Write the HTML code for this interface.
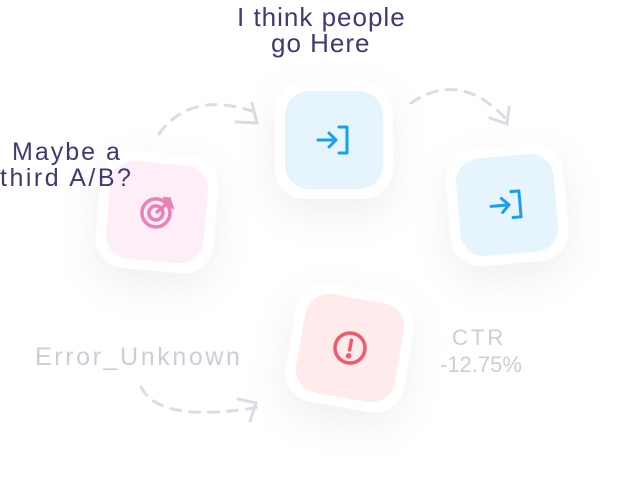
<!DOCTYPE html>
<html><head><style>
body{margin:0;width:629px;height:491px;background:#fff;position:relative;overflow:hidden;font-family:"Comic Sans MS","Liberation Sans",sans-serif}
.card{position:absolute;background:#fff;border-radius:30px;box-shadow:0 14px 40px rgba(120,120,150,.12)}
.in{position:absolute;left:10px;top:10px;right:10px;bottom:10px;border-radius:24px;display:flex;align-items:center;justify-content:center}
.t{position:absolute;white-space:nowrap;line-height:1}
</style></head><body>
<svg width="629" height="491" style="position:absolute;left:0;top:0" fill="none" stroke="#dcdce6" stroke-width="3" stroke-linecap="round">
<path d="M159 134 Q190 90 255 112" stroke-dasharray="10 9"/>
<path d="M236 122 L257 123 L252 103"/>
<path d="M411 103 Q460 70 505 118" stroke-dasharray="10 9"/>
<path d="M490 118 L507 124 L509 107"/>
<path d="M141 387 Q160 425 265 406" stroke-dasharray="10 9"/>
<path d="M238 399 L256 403 L250 421"/>
</svg>
<div class="card" style="left:98px;top:153px;width:118px;height:118px;transform:rotate(5deg)"><div class="in" style="background:#fdeef7">
<svg width="36" height="36" viewBox="0 0 36 36" fill="none" stroke="#ec7fb3" stroke-width="3.5"><circle cx="17" cy="19" r="14"/><circle cx="17" cy="19" r="7"/><path d="M17 19 L27 9" /><path d="M25 4 L27 9 L32 11 L29 4Z" fill="#ec7fb3"/></svg></div></div>
<div class="card" style="left:275px;top:81px;width:118px;height:118px"><div class="in" style="background:#e6f5fd">
<svg width="36" height="36" viewBox="0 0 36 36" fill="none" stroke="#1a9ff0" stroke-width="3" stroke-linecap="round" stroke-linejoin="round"><path d="M2 18 H20 M13 11 L20 18 L13 25"/><path d="M23 5 H31 V31 H23"/></svg></div></div>
<div class="card" style="left:448px;top:146px;width:118px;height:118px;transform:rotate(-5deg)"><div class="in" style="background:#e6f5fd">
<svg width="36" height="36" viewBox="0 0 36 36" fill="none" stroke="#1a9ff0" stroke-width="3" stroke-linecap="round" stroke-linejoin="round"><path d="M2 18 H20 M13 11 L20 18 L13 25"/><path d="M23 5 H31 V31 H23"/></svg></div></div>
<div class="card" style="left:290px;top:288px;width:120px;height:120px;transform:rotate(10deg)"><div class="in" style="background:#ffeaec">
<svg width="36" height="36" viewBox="0 0 36 36" fill="none" stroke="#f25a6c" stroke-width="3.5" stroke-linecap="round"><circle cx="18" cy="18" r="15"/><path d="M18 10 V20"/><circle cx="18" cy="26" r="1" fill="#f25a6c"/></svg></div></div>
<div class="t" style="left:237px;top:4px;font-size:26px;letter-spacing:1px;color:#3c3c72">I think people</div>
<div class="t" style="left:271px;top:30px;font-size:26px;letter-spacing:1px;color:#3c3c72">go Here</div>
<div class="t" style="left:12px;top:140px;font-size:25px;letter-spacing:2px;color:#3c3c72">Maybe a</div>
<div class="t" style="left:0px;top:166px;font-size:25px;letter-spacing:2.5px;color:#3c3c72">third A/B?</div>
<div class="t" style="left:35px;top:345px;font-size:25px;letter-spacing:2.6px;color:#cdcdd9">Error_Unknown</div>
<div class="t" style="left:452px;top:327px;font-size:22px;letter-spacing:3px;color:#cdcdd9">CTR</div>
<div class="t" style="left:440px;top:354px;font-size:22px;color:#cdcdd9">-12.75%</div>
</body></html>
